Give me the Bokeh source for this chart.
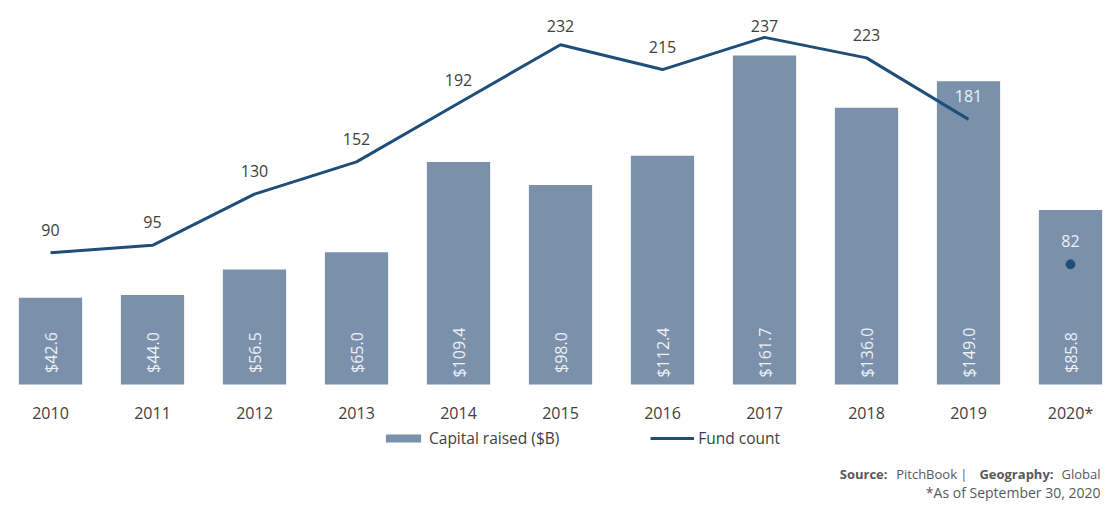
import math
from bokeh.plotting import figure
from bokeh.models import Range1d, FixedTicker, Legend, LegendItem, Label, ColumnDataSource
from bokeh.core.properties import value
from bokeh.embed import file_html
from bokeh.resources import INLINE

# ---- data ----
years = ["2010", "2011", "2012", "2013", "2014", "2015", "2016", "2017", "2018", "2019", "2020*"]
capital = [42.6, 44.0, 56.5, 65.0, 109.4, 98.0, 112.4, 161.7, 136.0, 149.0, 85.8]
fund_count = [90, 95, 130, 152, 192, 232, 215, 237, 223, 181, 82]

# ---- style ----
BAR = "#7b90ab"
LINE = "#1f4e79"
DARK = "#404040"
LIGHT = "#eef1f5"
FONT = "Open Sans"

idx = list(range(len(years)))

p = figure(width=1108, height=501, x_range=Range1d(-0.4118, 10.3725),
           y_range=Range1d(-57.5, 184.8), output_backend="svg",
           toolbar_location=None, min_border=0, min_border_left=8, min_border_top=8)
p.extra_y_ranges = {"cnt": Range1d(-79.9, 256.7)}
p.outline_line_color = None
p.background_fill_color = "white"
p.border_fill_color = "white"
p.xgrid.visible = False
p.ygrid.visible = False
p.yaxis.visible = False
p.title.visible = False

ax = p.xaxis[0]
ax.fixed_location = 0
ax.ticker = FixedTicker(ticks=idx)
ax.major_label_overrides = {i: y for i, y in enumerate(years)}
ax.axis_line_color = None
ax.major_tick_line_color = None
ax.minor_tick_line_color = None
ax.major_tick_out = 0
ax.major_tick_in = 0
ax.major_label_standoff = 17
ax.major_label_text_font = FONT
ax.major_label_text_font_size = "16px"
ax.major_label_text_color = DARK

bars = p.vbar(x=idx, top=capital, width=0.62, fill_color=BAR, line_color=None)

# bar value labels (rotated)
bsrc = ColumnDataSource(dict(x=idx, y=[15.7] * len(idx), t=["$%.1f" % v for v in capital]))
p.text(x="x", y="y", text="t", source=bsrc, angle=math.pi / 2, text_align="center",
       text_baseline="middle", text_color=LIGHT, text_font=value(FONT), text_font_size="16px")

line = p.line(x=idx[:-1], y=fund_count[:-1], y_range_name="cnt", line_color=LINE, line_width=3)
p.scatter(x=idx[-1:], y=fund_count[-1:], y_range_name="cnt", size=9, fill_color=LINE, line_color=LINE)

# fund count labels
BAR_PX = 2.0346
CNT_PX = 1.4646
lab_y = [min(v + 15.7, 245.0) for v in fund_count]
lab_col = [LIGHT if ly * CNT_PX < c * BAR_PX - 8 else DARK for ly, c in zip(lab_y, capital)]
csrc = ColumnDataSource(dict(x=idx, y=lab_y, t=[str(v) for v in fund_count], c=lab_col))
p.text(x="x", y="y", text="t", source=csrc, y_range_name="cnt", text_align="center",
       text_baseline="middle", text_color="c", text_font=value(FONT), text_font_size="16px")

legend = Legend(items=[LegendItem(label="Capital raised ($B)", renderers=[bars]),
                       LegendItem(label="Fund count", renderers=[line])],
                location=(373, 52), orientation="horizontal")
legend.padding = 0
legend.margin = 0
legend.spacing = 91
legend.label_standoff = 4
legend.glyph_width = 44
legend.glyph_height = 10
legend.label_height = 20
legend.label_text_font = FONT
legend.label_text_font_size = "15.5px"
legend.label_text_color = DARK
legend.background_fill_alpha = 0
legend.border_line_color = None
p.add_layout(legend)

SRC = "#595959"
segs = [("Source:", 879, "bold"), ("PitchBook |", 959, "normal"),
        ("Geography:", 1045, "bold"), ("Global", 1092, "normal")]
for t, x, st in segs:
    p.add_layout(Label(x=x, y=28, x_units="screen", y_units="screen", text=t,
                       text_font=FONT, text_font_size="13px", text_font_style=st,
                       text_color=SRC, text_align="right", text_baseline="middle"))
p.add_layout(Label(x=1092, y=9, x_units="screen", y_units="screen", text="*As of September 30, 2020",
                   text_font=FONT, text_font_size="14px", text_color=SRC,
                   text_align="right", text_baseline="middle"))

open("out.html", "w").write(file_html(p, INLINE))
